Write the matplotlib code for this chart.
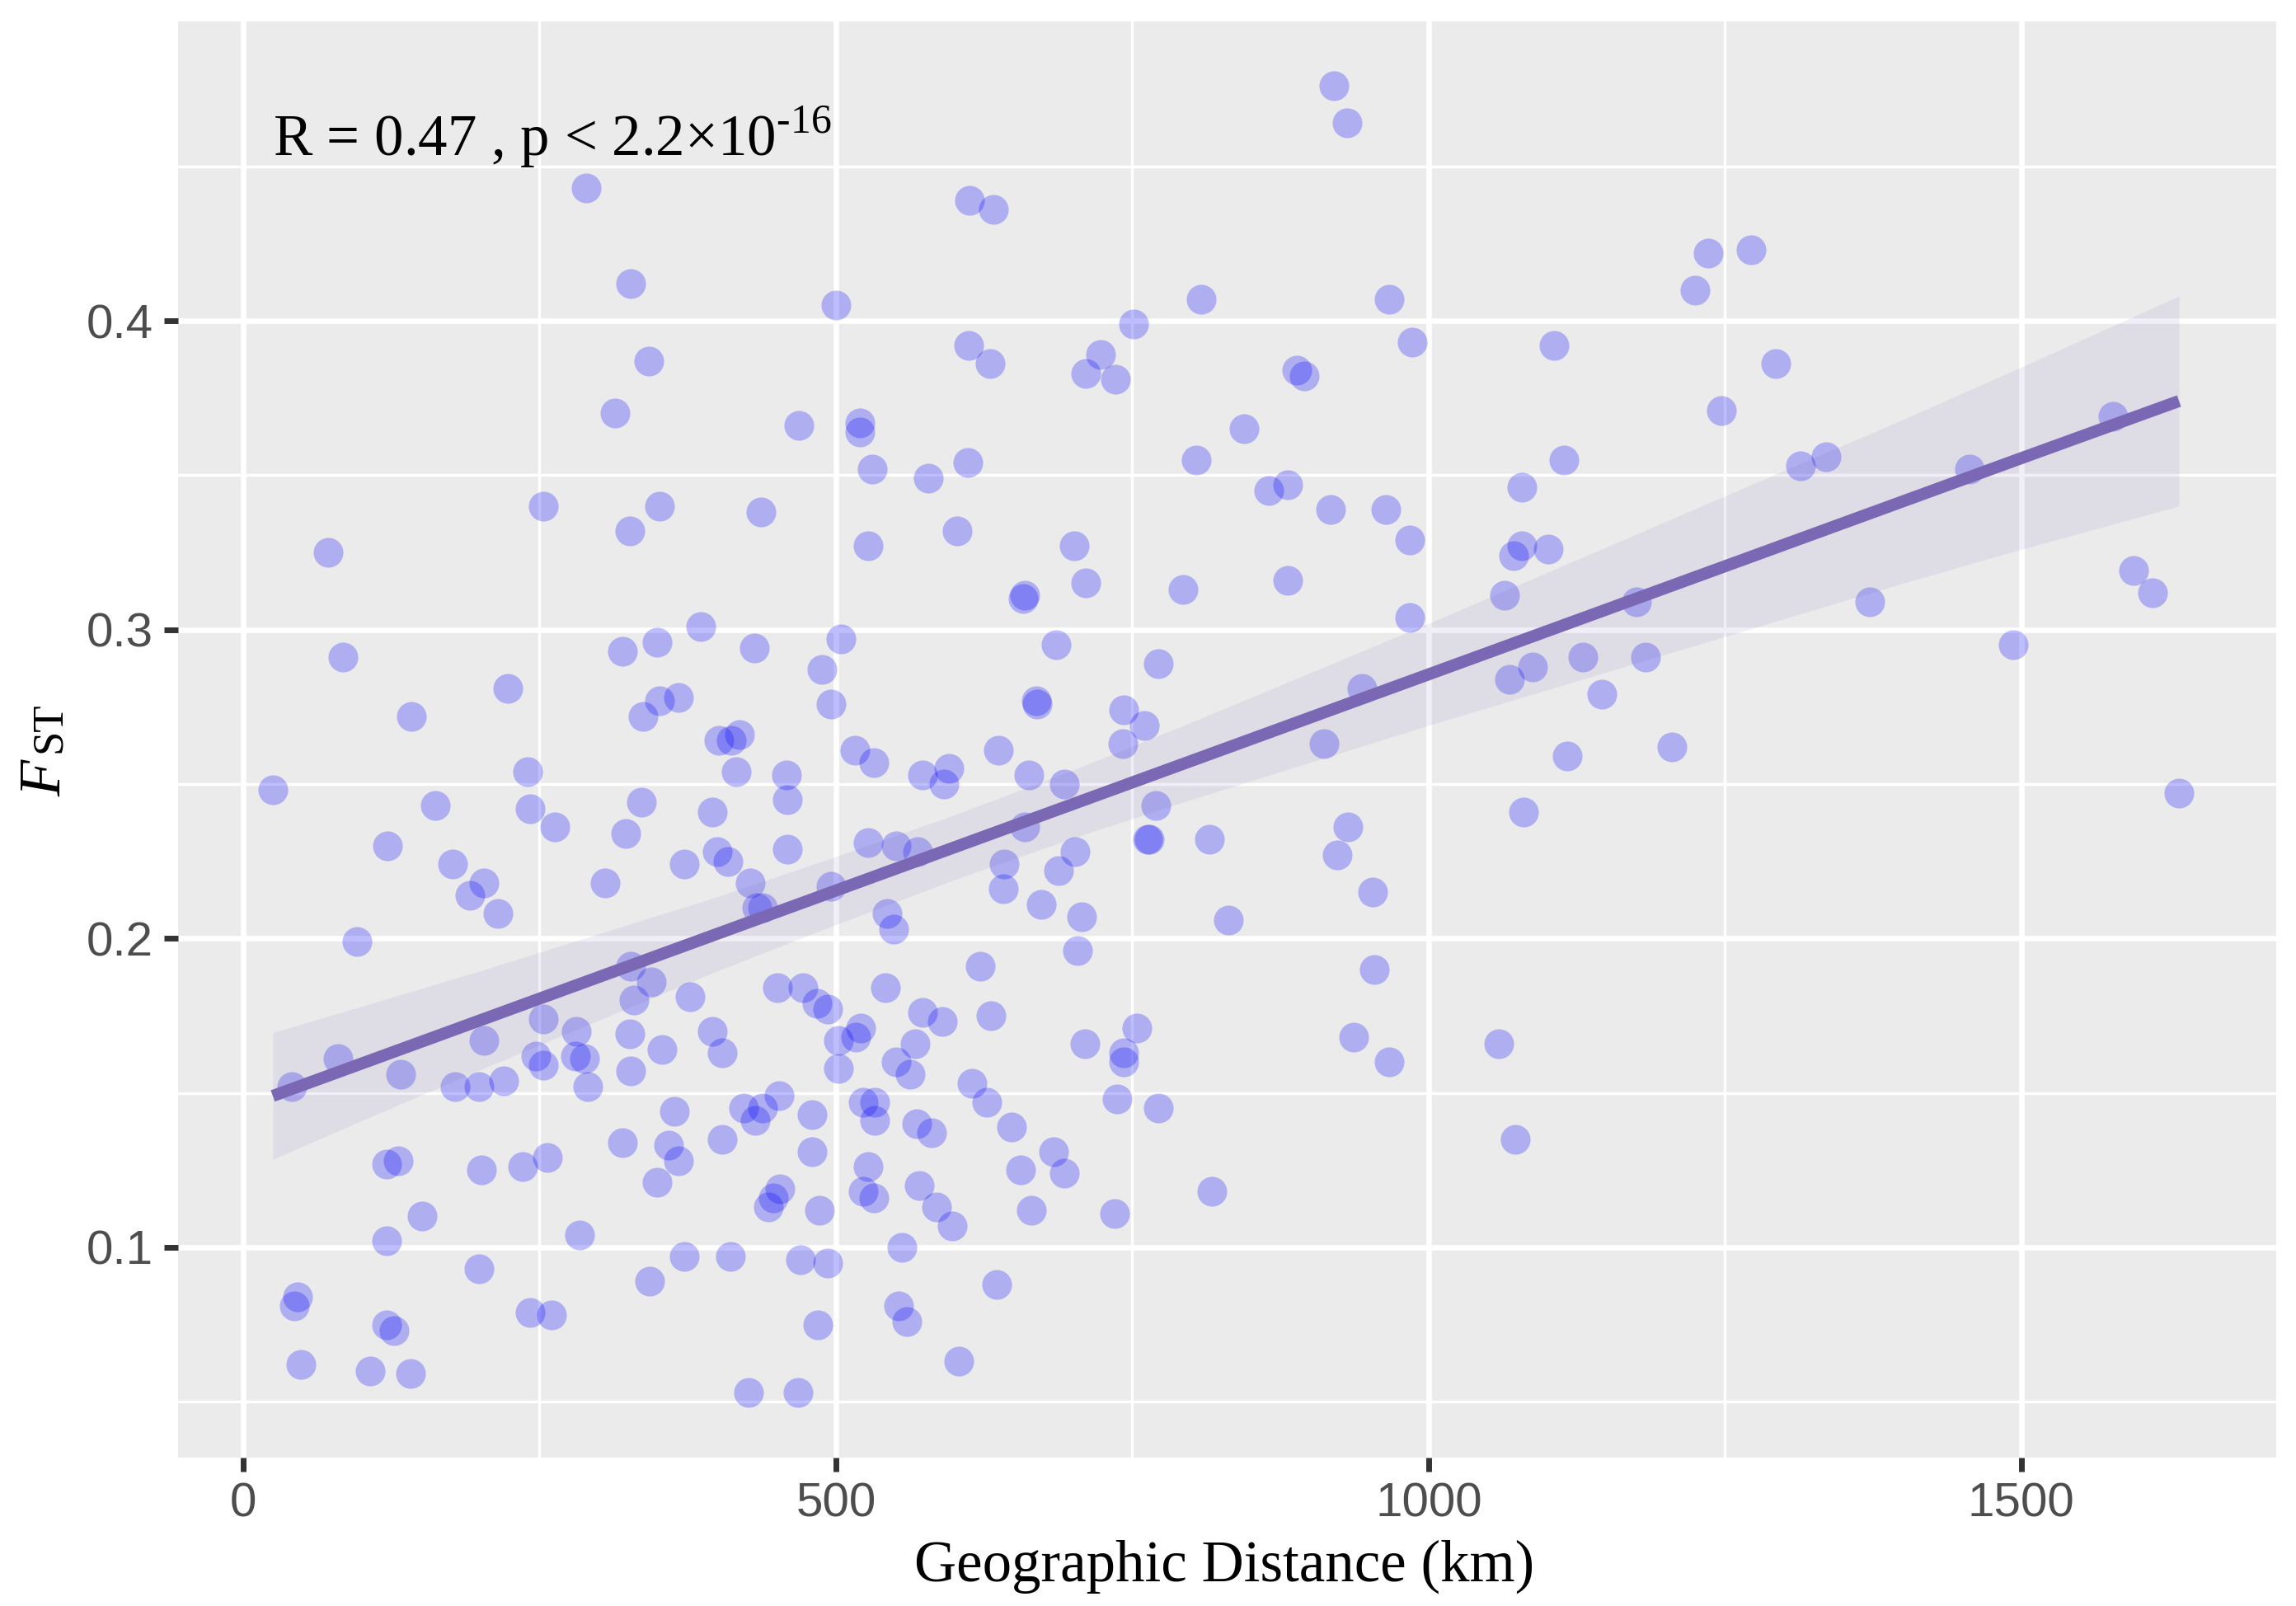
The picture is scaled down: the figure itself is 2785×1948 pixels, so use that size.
# -*- coding: utf-8 -*-
import numpy as np
import matplotlib
matplotlib.use('Agg')
import matplotlib.pyplot as plt

# pairwise points
dist_km = [920, 931, 289, 613, 633, 327, 500, 1236, 1272, 1225, 808, 967, 751, 986, 1106, 612,
           342, 630, 723, 711, 736, 889, 895, 1293, 314, 520, 520, 469, 844, 1247, 1577, 1114,
           531, 804, 578, 611, 1314, 1335, 1456, 253, 351, 437, 865, 881, 1079, 917, 964, 326,
           602, 527, 701, 984, 72, 1072, 1079, 1101, 659, 658, 711, 793, 881, 1064, 1175, 1372,
           1595, 1611, 984, 386, 504, 431, 349, 320, 84, 686, 772, 1493, 1130, 1088, 1068, 488,
           1183, 1146, 944, 223, 367, 351, 337, 142, 496, 670, 669, 743, 760, 742, 401, 419,
           412, 516, 637, 532, 912, 1117, 1205, 240, 416, 458, 573, 595, 591, 663, 693, 25,
           1633, 336, 459, 162, 242, 396, 770, 1080, 263, 323, 659, 932, 122, 400, 459, 527,
           551, 569, 702, 763, 764, 815, 923, 177, 372, 409, 642, 688, 203, 305, 428, 496,
           191, 641, 953, 215, 433, 438, 543, 673, 707, 831, 549, 96, 704, 327, 622, 954,
           344, 451, 472, 542, 330, 377, 484, 493, 573, 631, 590, 253, 521, 754, 281, 326,
           396, 203, 502, 517, 567, 710, 1059, 937, 353, 404, 80, 247, 280, 288, 551, 743,
           743, 967, 253, 502, 133, 220, 327, 563, 41, 179, 199, 291, 615, 452, 533, 523,
           627, 422, 438, 772, 737, 364, 480, 432, 533, 568, 648, 581, 404, 1073, 320, 359,
           684, 480, 121, 131, 201, 236, 257, 367, 527, 656, 693, 349, 570, 453, 523, 532,
           817, 585, 447, 443, 486, 665, 735, 151, 598, 284, 121, 556, 199, 372, 411, 470,
           493, 343, 636, 46, 43, 553, 560, 242, 260, 485, 121, 127, 49, 604, 107, 141,
           426, 468]
fst = [0.476, 0.464, 0.443, 0.439, 0.436, 0.412, 0.405, 0.422, 0.423, 0.410, 0.407, 0.407, 0.399, 0.393, 0.392, 0.392,
       0.387, 0.386, 0.389, 0.383, 0.381, 0.384, 0.382, 0.386, 0.370, 0.367, 0.364, 0.366, 0.365, 0.371, 0.369, 0.355,
       0.352, 0.355, 0.349, 0.354, 0.353, 0.356, 0.352, 0.340, 0.340, 0.338, 0.345, 0.347, 0.346, 0.339, 0.339, 0.332,
       0.332, 0.327, 0.327, 0.329, 0.325, 0.324, 0.327, 0.326, 0.311, 0.310, 0.315, 0.313, 0.316, 0.311, 0.309, 0.309,
       0.319, 0.312, 0.304, 0.301, 0.297, 0.294, 0.296, 0.293, 0.291, 0.295, 0.289, 0.295, 0.291, 0.288, 0.284, 0.287,
       0.291, 0.279, 0.281, 0.281, 0.278, 0.277, 0.272, 0.272, 0.276, 0.276, 0.277, 0.274, 0.269, 0.263, 0.264, 0.266,
       0.264, 0.261, 0.261, 0.257, 0.263, 0.259, 0.262, 0.254, 0.254, 0.253, 0.253, 0.255, 0.250, 0.253, 0.250, 0.248,
       0.247, 0.244, 0.245, 0.243, 0.242, 0.241, 0.243, 0.241, 0.236, 0.234, 0.236, 0.236, 0.230, 0.228, 0.229, 0.231,
       0.230, 0.228, 0.228, 0.232, 0.232, 0.232, 0.227, 0.224, 0.224, 0.225, 0.224, 0.222, 0.218, 0.218, 0.218, 0.217,
       0.214, 0.216, 0.215, 0.208, 0.210, 0.210, 0.208, 0.211, 0.207, 0.206, 0.203, 0.199, 0.196, 0.191, 0.191, 0.190,
       0.186, 0.184, 0.184, 0.184, 0.180, 0.181, 0.179, 0.177, 0.176, 0.175, 0.173, 0.174, 0.171, 0.171, 0.170, 0.169,
       0.170, 0.167, 0.167, 0.168, 0.166, 0.166, 0.166, 0.168, 0.164, 0.163, 0.161, 0.162, 0.162, 0.161, 0.160, 0.163,
       0.160, 0.160, 0.159, 0.158, 0.156, 0.154, 0.157, 0.156, 0.152, 0.152, 0.152, 0.152, 0.153, 0.149, 0.147, 0.147,
       0.147, 0.145, 0.145, 0.145, 0.148, 0.144, 0.143, 0.141, 0.141, 0.140, 0.139, 0.137, 0.135, 0.135, 0.134, 0.133,
       0.131, 0.131, 0.127, 0.128, 0.125, 0.126, 0.129, 0.128, 0.126, 0.125, 0.124, 0.121, 0.120, 0.119, 0.118, 0.116,
       0.118, 0.113, 0.116, 0.113, 0.112, 0.112, 0.111, 0.110, 0.107, 0.104, 0.102, 0.100, 0.093, 0.097, 0.097, 0.096,
       0.095, 0.089, 0.088, 0.084, 0.081, 0.081, 0.076, 0.079, 0.078, 0.075, 0.075, 0.073, 0.062, 0.063, 0.060, 0.059,
       0.053, 0.053]

# regression line and confidence band
fit_x = [25, 100, 200, 300, 400, 500, 600, 700, 800, 900, 1000, 1100, 1200, 1300, 1400, 1500, 1633]
fit_y = [.149, .1595, .1735, .1875, .2015, .2155, .2295, .2435, .2575, .2715, .2855, .2995, .3135, .3275, .3415, .3555, .374]
fit_lo = [.1285, .141, .1575, .1735, .1895, .2045, .219, .2325, .245, .257, .269, .2805, .292, .3035, .315, .326, .340]
fit_hi = [.1695, .178, .1895, .2015, .2135, .2265, .240, .2545, .270, .286, .302, .3185, .335, .3515, .368, .385, .408]

x_major = [0, 500, 1000, 1500]
x_minor = [250, 750, 1250]
y_major = [0.1, 0.2, 0.3, 0.4]
y_minor = [0.05, 0.15, 0.25, 0.35, 0.45]

W, H = 2785, 1948
SERIF = 'Liberation Serif'

plt.rcParams['mathtext.fontset'] = 'custom'
plt.rcParams['mathtext.rm'] = SERIF

fig = plt.figure(figsize=(W / 100, H / 100), dpi=100)
ax = fig.add_axes([216 / W, 1 - 1768 / H, (2761 - 216) / W, (1768 - 26) / H])
ax.set_facecolor('#EBEBEB')
for s in ax.spines.values():
    s.set_visible(False)

ax.set_xlim(-54.9, 1715)
ax.set_ylim(0.0319, 0.4969)

ax.set_xticks(x_major)
ax.set_xticks(x_minor, minor=True)
ax.set_yticks(y_major)
ax.set_yticks(y_minor, minor=True)
ax.set_xticklabels(['0', '500', '1000', '1500'])
ax.set_yticklabels(['0.1', '0.2', '0.3', '0.4'])

ax.grid(True, which='major', color='white', lw=4.8, zorder=1)
ax.grid(True, which='minor', color='white', lw=2.5, zorder=1)
ax.set_axisbelow(True)

ax.tick_params(which='major', length=12.5, width=5, color='#333333',
               labelsize=42, labelcolor='#4D4D4D', pad=9)
ax.tick_params(which='minor', length=0)
for lab in ax.get_xticklabels() + ax.get_yticklabels():
    lab.set_family('Liberation Sans')

ax.scatter(dist_km, fst, s=676, color='#0000FF', alpha=0.26, linewidths=0, zorder=3)
ax.fill_between(fit_x, fit_lo, fit_hi, color='#7B68B5', alpha=0.11, linewidth=0, zorder=4)
ax.plot(fit_x, fit_y, color='#7B68B5', lw=10.5, solid_capstyle='butt', zorder=5)

# annotation, top left
ax.text(25, 0.4535, 'R = 0.47 , p < 2.2×10$^{\\text{-}16}$', family=SERIF,
        fontsize=51, color='black', va='baseline', zorder=6)

fig.text(1485 / W, 1 - 1900 / H, 'Geographic Distance (km)', family=SERIF, fontsize=51,
         ha='center', va='center', color='black')

# y label, F and ST set by hand because ST sits on the baseline
fig.text(73 / W, 1 - 966 / H, 'F', family=SERIF, style='italic', fontsize=52, rotation=90,
         ha='left', va='baseline', rotation_mode='anchor', color='black')
fig.text(73 / W, 1 - 913 / H, 'ST', family=SERIF, fontsize=38, rotation=90,
         ha='left', va='baseline', rotation_mode='anchor', color='black')

fig.savefig('out.png', dpi=100)
